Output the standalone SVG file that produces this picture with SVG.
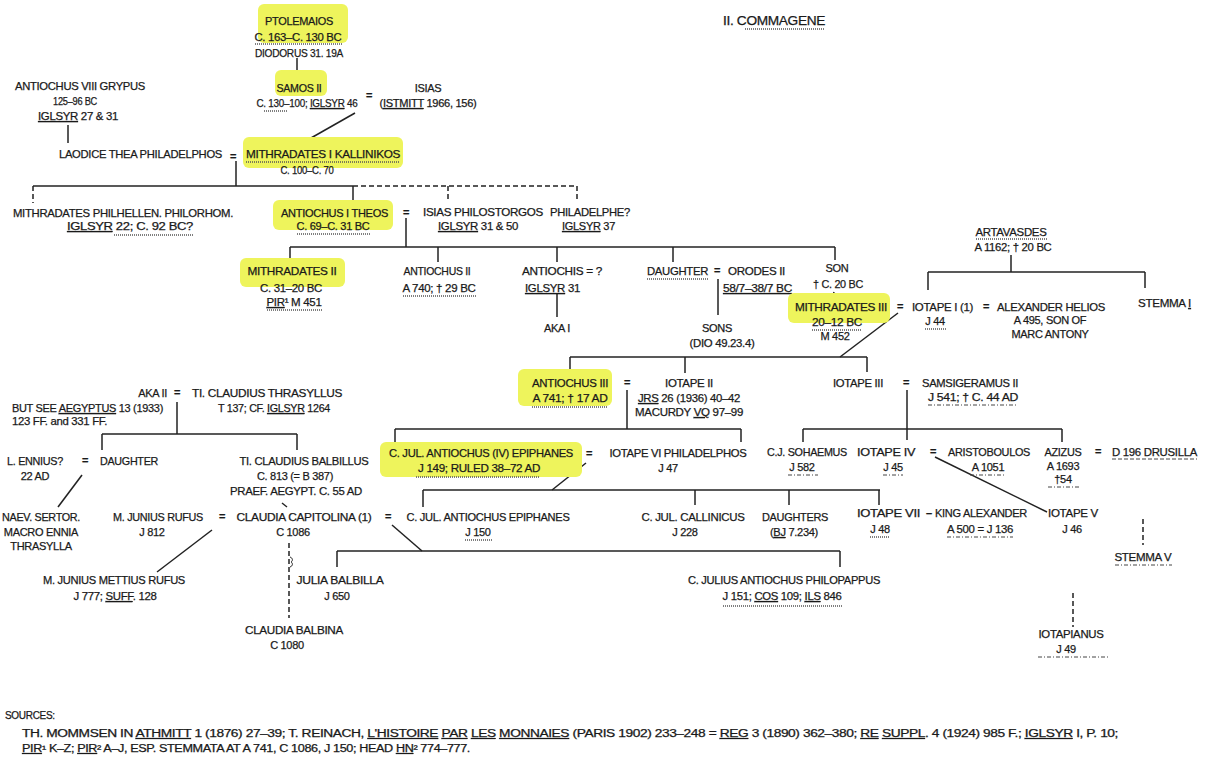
<svg xmlns="http://www.w3.org/2000/svg" width="1214" height="760" viewBox="0 0 1214 760">
<style>
text{font-family:"Liberation Sans",Arial,sans-serif;font-size:11px;fill:#1a1a1a;stroke:#1a1a1a;stroke-width:0.25;letter-spacing:-0.3px}
.c{text-anchor:middle}
.e{text-anchor:end}
.u{text-decoration:underline}
.eq{font-weight:bold;text-anchor:middle}
.src{font-size:10px}
.hl{fill:#eef45c}
.ln{stroke:#222;stroke-width:1.5;fill:none}
.ds{stroke-dasharray:5 3}
.hat{stroke:#555;stroke-width:1.6;stroke-dasharray:1 1;fill:none}
.dd{stroke:#444;stroke-width:1;stroke-dasharray:4 2 1 2;fill:none}
</style>
<rect width="1214" height="760" fill="#fff"/>

<g id="title">
<text x="723" y="25" textLength="102" lengthAdjust="spacingAndGlyphs" style="font-size:12px">II. COMMAGENE</text>
<line class="hat" x1="745" y1="29" x2="825" y2="29"/>
</g>

<g id="connectors">
<line class="ln" x1="297" y1="58" x2="297" y2="80"/>
<line class="ln" x1="355" y1="113" x2="311" y2="138"/>
<line class="ln" x1="68" y1="125" x2="68" y2="143"/>
<line class="ln" x1="236" y1="161" x2="236" y2="186"/>
<line class="ln" x1="33" y1="186" x2="353" y2="186"/>
<line class="ln ds" x1="353" y1="186" x2="577" y2="186"/>
<line class="ln ds" x1="33" y1="186" x2="33" y2="203"/>
<line class="ln" x1="353" y1="186" x2="353" y2="200"/>
<line class="ln ds" x1="448" y1="186" x2="448" y2="199"/>
<line class="ln ds" x1="577" y1="186" x2="577" y2="199"/>
<line class="ln" x1="406" y1="218" x2="406" y2="247"/>
<line class="ln" x1="290" y1="247" x2="835" y2="247"/>
<line class="ln" x1="290" y1="247" x2="290" y2="263"/>
<line class="ln" x1="438" y1="247" x2="438" y2="262"/>
<line class="ln" x1="557" y1="247" x2="557" y2="262"/>
<line class="ln" x1="673" y1="247" x2="673" y2="262"/>
<line class="ln" x1="835" y1="247" x2="835" y2="260"/>
<line class="ln" x1="557" y1="294" x2="557" y2="317"/>
<line class="ln" x1="718" y1="279" x2="718" y2="315"/>
<line class="ln" x1="834" y1="292" x2="832" y2="299"/>
<line class="ln" x1="1011" y1="255" x2="1011" y2="272"/>
<line class="ln" x1="928" y1="272" x2="1145" y2="272"/>
<line class="ln" x1="928" y1="272" x2="928" y2="290"/>
<line class="ln" x1="1145" y1="272" x2="1145" y2="288"/>
<line class="ln" x1="898" y1="313" x2="840" y2="357"/>
<line class="ln" x1="570" y1="357" x2="867" y2="357"/>
<line class="ln" x1="570" y1="357" x2="570" y2="373"/>
<line class="ln" x1="685" y1="357" x2="685" y2="373"/>
<line class="ln" x1="867" y1="357" x2="867" y2="372"/>
<line class="ln" x1="627" y1="390" x2="627" y2="429"/>
<line class="ln" x1="395" y1="429" x2="741" y2="429"/>
<line class="ln" x1="395" y1="429" x2="395" y2="444"/>
<line class="ln" x1="741" y1="429" x2="741" y2="442"/>
<line class="ln" x1="586" y1="463" x2="552" y2="490"/>
<line class="ln" x1="423" y1="490" x2="880" y2="490"/>
<line class="ln" x1="423" y1="490" x2="423" y2="507"/>
<line class="ln" x1="695" y1="490" x2="695" y2="505"/>
<line class="ln" x1="789" y1="490" x2="789" y2="505"/>
<line class="ln" x1="879" y1="490" x2="879" y2="505"/>
<line class="ln" x1="907" y1="390" x2="907" y2="440"/>
<line class="ln" x1="803" y1="429" x2="1062" y2="429"/>
<line class="ln" x1="803" y1="429" x2="803" y2="442"/>
<line class="ln" x1="1062" y1="429" x2="1062" y2="442"/>
<line class="ln" x1="935" y1="457" x2="1047" y2="512"/>
<line class="ln ds" x1="1143" y1="519" x2="1143" y2="545"/>
<line class="ln ds" x1="1073" y1="593" x2="1073" y2="627"/>
<line class="ln" x1="392" y1="525" x2="422" y2="551"/>
<line class="ln" x1="337" y1="551" x2="840" y2="551"/>
<line class="ln" x1="337" y1="551" x2="337" y2="567"/>
<line class="ln" x1="840" y1="551" x2="840" y2="567"/>
<line class="ln" x1="177" y1="402" x2="177" y2="434"/>
<line class="ln" x1="102" y1="434" x2="297" y2="434"/>
<line class="ln" x1="102" y1="434" x2="102" y2="450"/>
<line class="ln" x1="297" y1="434" x2="297" y2="450"/>
<line class="ln" x1="82" y1="475" x2="58" y2="507"/>
<line class="ln" x1="282" y1="503" x2="287" y2="507"/>
<line class="ln" x1="212" y1="530" x2="157" y2="572"/>
<line class="ln ds" x1="289" y1="543" x2="289" y2="618"/>
<path class="ln" d="M290,557 c3,1 3,4 1,5 c2,1 2,4 -1,5" style="stroke-width:1"/>
<text class="eq" x="369" y="99">=</text>
<text class="eq" x="233" y="160">=</text>
<text class="eq" x="406" y="216">=</text>
<text class="eq" x="717" y="274">=</text>
<text class="eq" x="900" y="310">=</text>
<text class="eq" x="986" y="310">=</text>
<text class="eq" x="627" y="386">=</text>
<text class="eq" x="906" y="386">=</text>
<text class="eq" x="589" y="457">=</text>
<text class="eq" x="933" y="455">=</text>
<text class="eq" x="1098" y="455">=</text>
<text class="eq" x="929" y="517">–</text>
<text class="eq" x="177" y="396">=</text>
<text class="eq" x="85" y="464">=</text>
<text class="eq" x="222" y="520">=</text>
<text class="eq" x="388" y="520">=</text>
</g>

<g id="n-ptolemaios">
<rect class="hl" x="258" y="4" width="90" height="39" rx="6"/>
<text class="c" x="299" y="25" textLength="68" lengthAdjust="spacingAndGlyphs">PTOLEMAIOS</text>
<text class="c" x="298" y="41" textLength="87" lengthAdjust="spacingAndGlyphs">C. 163–C. 130 BC</text>
<line class="hat" x1="255" y1="44" x2="342" y2="44"/>
<text class="c" x="299" y="57" textLength="88" lengthAdjust="spacingAndGlyphs">DIODORUS 31. 19A</text>
</g>

<g id="n-samos">
<rect class="hl" x="275" y="70" width="52" height="26" rx="6"/>
<text class="c" x="299" y="92" textLength="45" lengthAdjust="spacingAndGlyphs">SAMOS II</text>
<text class="c" x="307" y="107" textLength="101" lengthAdjust="spacingAndGlyphs">C. 130–100; <tspan class="u">IGLSYR</tspan> 46</text>
<line class="hat" x1="264" y1="111" x2="288" y2="111"/>
</g>

<g id="n-isias">
<text class="c" x="428" y="92">ISIAS</text>
<text class="c" x="428" y="107" textLength="97" lengthAdjust="spacingAndGlyphs">(<tspan class="u">ISTMITT</tspan> 1966, 156)</text>
</g>

<g id="n-antiochus8">
<text class="c" x="80" y="90" textLength="130" lengthAdjust="spacingAndGlyphs">ANTIOCHUS VIII GRYPUS</text>
<text class="c" x="75" y="105" textLength="44" lengthAdjust="spacingAndGlyphs">125–96 BC</text>
<text class="c" x="78" y="120" textLength="80" lengthAdjust="spacingAndGlyphs"><tspan class="u">IGLSYR</tspan> 27 &amp; 31</text>
</g>

<g id="n-laodice">
<text x="59" y="158" textLength="163" lengthAdjust="spacingAndGlyphs">LAODICE THEA PHILADELPHOS</text>
</g>

<g id="n-mithradates1">
<rect class="hl" x="243" y="137" width="160" height="31" rx="6"/>
<text x="246" y="158" textLength="154" lengthAdjust="spacingAndGlyphs">MITHRADATES I KALLINIKOS</text>
<line class="hat" x1="246" y1="162" x2="400" y2="162"/>
<text class="c" x="307" y="174" textLength="53" lengthAdjust="spacingAndGlyphs">C. 100–C. 70</text>
</g>

<g id="n-philhellen">
<text x="13" y="217" textLength="220" lengthAdjust="spacingAndGlyphs">MITHRADATES PHILHELLEN. PHILORHOM.</text>
<text x="67" y="230" textLength="126" lengthAdjust="spacingAndGlyphs"><tspan class="u">IGLSYR</tspan>  22;  C.  92  BC?</text>
<line class="hat" x1="114" y1="235" x2="193" y2="235"/>
</g>

<g id="n-antiochus1">
<rect class="hl" x="273" y="200" width="120" height="30" rx="6"/>
<text x="281" y="217" textLength="107" lengthAdjust="spacingAndGlyphs">ANTIOCHUS I THEOS</text>
<text class="c" x="333" y="230" textLength="73" lengthAdjust="spacingAndGlyphs">C. 69–C. 31 BC</text>
<line class="hat" x1="297" y1="234" x2="370" y2="234"/>
</g>

<g id="n-isias-philostorgos">
<text x="423" y="216" textLength="120" lengthAdjust="spacingAndGlyphs">ISIAS PHILOSTORGOS</text>
<text x="438" y="230" textLength="80" lengthAdjust="spacingAndGlyphs"><tspan class="u">IGLSYR</tspan> 31 &amp; 50</text>
</g>

<g id="n-philadelphe">
<text x="550" y="216" textLength="80" lengthAdjust="spacingAndGlyphs">PHILADELPHE?</text>
<text x="562" y="230" textLength="53" lengthAdjust="spacingAndGlyphs"><tspan class="u">IGLSYR</tspan> 37</text>
</g>

<g id="n-mithradates2">
<rect class="hl" x="240" y="258" width="105" height="29" rx="6"/>
<text class="c" x="292" y="275" textLength="89" lengthAdjust="spacingAndGlyphs">MITHRADATES II</text>
<text class="c" x="291" y="292" textLength="62" lengthAdjust="spacingAndGlyphs">C. 31–20 BC</text>
<text class="c" x="294" y="306" textLength="55" lengthAdjust="spacingAndGlyphs"><tspan class="u">PIR</tspan>¹ M 451</text>
<line class="hat" x1="267" y1="310" x2="322" y2="310"/>
</g>

<g id="n-antiochus2">
<text class="c" x="437" y="275" textLength="67" lengthAdjust="spacingAndGlyphs">ANTIOCHUS II</text>
<text class="c" x="439" y="292" textLength="73" lengthAdjust="spacingAndGlyphs">A 740; † 29 BC</text>
<line class="hat" x1="403" y1="296" x2="476" y2="296"/>
</g>

<g id="n-antiochis">
<text x="522" y="275" textLength="80" lengthAdjust="spacingAndGlyphs">ANTIOCHIS = ?</text>
<text x="525" y="292" textLength="55" lengthAdjust="spacingAndGlyphs"><tspan class="u">IGLSYR</tspan> 31</text>
</g>

<g id="n-aka1">
<text class="c" x="557" y="332">AKA I</text>
</g>

<g id="n-daughter">
<text x="647" y="275" textLength="61" lengthAdjust="spacingAndGlyphs">DAUGHTER</text>
<line class="hat" x1="647" y1="279" x2="708" y2="279"/>
</g>

<g id="n-orodes">
<text x="728" y="275" textLength="57" lengthAdjust="spacingAndGlyphs">ORODES II</text>
<text x="723" y="292" textLength="69" lengthAdjust="spacingAndGlyphs"><tspan class="u">58/7–38/7 BC</tspan></text>
</g>

<g id="n-sons">
<text class="c" x="717" y="332">SONS</text>
<text class="c" x="722" y="347" textLength="65" lengthAdjust="spacingAndGlyphs">(DIO 49.23.4)</text>
</g>

<g id="n-son">
<text class="c" x="837" y="272">SON</text>
<text class="c" x="838" y="288" textLength="50" lengthAdjust="spacingAndGlyphs">† C. 20 BC</text>
</g>

<g id="n-mithradates3">
<rect class="hl" x="788" y="293" width="102" height="30" rx="6"/>
<text x="795" y="311" textLength="92" lengthAdjust="spacingAndGlyphs">MITHRADATES III</text>
<text class="c" x="837" y="326" textLength="50" lengthAdjust="spacingAndGlyphs">20–12 BC</text>
<line class="hat" x1="812" y1="330" x2="862" y2="330"/>
<text class="c" x="835" y="340">M 452</text>
</g>

<g id="n-iotape1">
<text x="912" y="311" textLength="61" lengthAdjust="spacingAndGlyphs">IOTAPE I (1)</text>
<text class="c" x="935" y="325">J 44</text>
<line class="hat" x1="925" y1="329" x2="946" y2="329"/>
</g>

<g id="n-alexander">
<text x="997" y="311" textLength="108" lengthAdjust="spacingAndGlyphs">ALEXANDER HELIOS</text>
<text class="c" x="1050" y="324">A 495, SON OF</text>
<text class="c" x="1050" y="338">MARC ANTONY</text>
</g>

<g id="n-stemma1">
<text x="1138" y="307" textLength="53" lengthAdjust="spacingAndGlyphs">STEMMA <tspan class="u">I</tspan></text>
</g>

<g id="n-artavasdes">
<text class="c" x="1011" y="236" textLength="71" lengthAdjust="spacingAndGlyphs">ARTAVASDES</text>
<line class="hat" x1="976" y1="239" x2="1047" y2="239"/>
<text class="c" x="1013" y="251" textLength="77" lengthAdjust="spacingAndGlyphs">A 1162; † 20 BC</text>
</g>

<g id="n-antiochus3">
<rect class="hl" x="518" y="369" width="94" height="37" rx="6"/>
<text class="c" x="570" y="387" textLength="76" lengthAdjust="spacingAndGlyphs">ANTIOCHUS III</text>
<text class="c" x="570" y="402" textLength="75" lengthAdjust="spacingAndGlyphs">A 741; † 17 AD</text>
<line class="hat" x1="532" y1="407" x2="607" y2="407"/>
</g>

<g id="n-iotape2">
<text class="c" x="689" y="387" textLength="48" lengthAdjust="spacingAndGlyphs">IOTAPE II</text>
<text class="c" x="689" y="402" textLength="102" lengthAdjust="spacingAndGlyphs"><tspan class="u">JRS</tspan> 26 (1936) 40–42</text>
<text class="c" x="689" y="416" textLength="108" lengthAdjust="spacingAndGlyphs">MACURDY <tspan class="u">VQ</tspan> 97–99</text>
</g>

<g id="n-antiochus4">
<rect class="hl" x="380" y="442" width="202" height="35" rx="6"/>
<text class="c" x="481" y="457" textLength="184" lengthAdjust="spacingAndGlyphs">C. JUL. ANTIOCHUS (IV) EPIPHANES</text>
<text class="c" x="479" y="472" textLength="122" lengthAdjust="spacingAndGlyphs">J 149; RULED 38–72 AD</text>
<line class="hat" x1="416" y1="477" x2="540" y2="477"/>
</g>

<g id="n-iotape6">
<text class="c" x="678" y="457" textLength="137" lengthAdjust="spacingAndGlyphs">IOTAPE VI PHILADELPHOS</text>
<text class="c" x="668" y="472">J 47</text>
</g>

<g id="n-iotape3">
<text x="833" y="387" textLength="50" lengthAdjust="spacingAndGlyphs">IOTAPE III</text>
</g>

<g id="n-samsigeramus">
<text x="922" y="387" textLength="96" lengthAdjust="spacingAndGlyphs">SAMSIGERAMUS II</text>
<text class="c" x="973" y="401" textLength="90" lengthAdjust="spacingAndGlyphs">J 541; † C. 44 AD</text>
<line class="dd" x1="928" y1="405" x2="1018" y2="405"/>
</g>

<g id="n-sohaemus">
<text x="767" y="456" textLength="80" lengthAdjust="spacingAndGlyphs">C.J. SOHAEMUS</text>
<text class="c" x="802" y="471">J 582</text>
<line class="dd" x1="788" y1="475" x2="818" y2="475"/>
</g>

<g id="n-iotape4">
<text x="857" y="456" textLength="58" lengthAdjust="spacingAndGlyphs">IOTAPE IV</text>
<text class="c" x="893" y="471">J 45</text>
<line class="dd" x1="883" y1="475" x2="903" y2="475"/>
</g>

<g id="n-aristoboulos">
<text x="948" y="456" textLength="82" lengthAdjust="spacingAndGlyphs">ARISTOBOULOS</text>
<text class="c" x="988" y="471">A 1051</text>
<line class="dd" x1="970" y1="475" x2="1006" y2="475"/>
</g>

<g id="n-azizus">
<text class="c" x="1063" y="456" textLength="37" lengthAdjust="spacingAndGlyphs">AZIZUS</text>
<text class="c" x="1063" y="470">A 1693</text>
<text class="c" x="1063" y="483">†54</text>
<line class="dd" x1="1048" y1="487" x2="1080" y2="487"/>
</g>

<g id="n-drusilla">
<text x="1112" y="456" textLength="85" lengthAdjust="spacingAndGlyphs">D 196 DRUSILLA</text>
<line class="dd" x1="1112" y1="459" x2="1197" y2="459" style="stroke-dasharray:4 2"/>
</g>

<g id="n-iotape7">
<text x="857" y="517" textLength="63" lengthAdjust="spacingAndGlyphs">IOTAPE VII</text>
<text class="c" x="880" y="533">J 48</text>
<line class="hat" x1="870" y1="537" x2="890" y2="537"/>
</g>

<g id="n-kingalexander">
<text x="935" y="517" textLength="92" lengthAdjust="spacingAndGlyphs">KING ALEXANDER</text>
<text class="c" x="980" y="533" textLength="66" lengthAdjust="spacingAndGlyphs">A 500 = J 136</text>
<line class="dd" x1="947" y1="537" x2="1013" y2="537"/>
</g>

<g id="n-iotape5">
<text x="1048" y="517" textLength="50" lengthAdjust="spacingAndGlyphs">IOTAPE V</text>
<text class="c" x="1072" y="533">J 46</text>
</g>

<g id="n-stemma5">
<text class="c" x="1143" y="561" textLength="57" lengthAdjust="spacingAndGlyphs">STEMMA V</text>
<line class="dd" x1="1115" y1="565" x2="1172" y2="565"/>
</g>

<g id="n-iotapianus">
<text class="c" x="1071" y="638" textLength="65" lengthAdjust="spacingAndGlyphs">IOTAPIANUS</text>
<text class="c" x="1066" y="653">J 49</text>
<line class="dd" x1="1038" y1="657" x2="1110" y2="657"/>
</g>

<g id="n-antiochus-epiphanes">
<text class="c" x="488" y="521" textLength="163" lengthAdjust="spacingAndGlyphs">C. JUL. ANTIOCHUS EPIPHANES</text>
<text class="c" x="478" y="536">J 150</text>
<line class="hat" x1="465" y1="540" x2="492" y2="540"/>
</g>

<g id="n-callinicus">
<text class="c" x="693" y="521" textLength="103" lengthAdjust="spacingAndGlyphs">C. JUL. CALLINICUS</text>
<text class="c" x="685" y="536">J 228</text>
</g>

<g id="n-daughters">
<text class="c" x="795" y="521" textLength="66" lengthAdjust="spacingAndGlyphs">DAUGHTERS</text>
<text class="c" x="794" y="536" textLength="48" lengthAdjust="spacingAndGlyphs">(<tspan class="u">BJ</tspan> 7.234)</text>
</g>

<g id="n-philopappus">
<text class="c" x="784" y="584" textLength="192" lengthAdjust="spacingAndGlyphs">C. JULIUS ANTIOCHUS PHILOPAPPUS</text>
<text class="c" x="782" y="600" textLength="119" lengthAdjust="spacingAndGlyphs">J 151; <tspan class="u">COS</tspan> 109; <tspan class="u">ILS</tspan> 846</text>
<line class="hat" x1="723" y1="606" x2="842" y2="606"/>
</g>

<g id="n-julia">
<text class="c" x="340" y="584" textLength="87" lengthAdjust="spacingAndGlyphs">JULIA BALBILLA</text>
<text class="c" x="337" y="600">J 650</text>
</g>

<g id="n-aka2">
<text class="e" x="167" y="397">AKA II</text>
</g>

<g id="n-thrasyllus">
<text class="c" x="267" y="397" textLength="150" lengthAdjust="spacingAndGlyphs">TI. CLAUDIUS THRASYLLUS</text>
<text class="c" x="274" y="412" textLength="112" lengthAdjust="spacingAndGlyphs">T 137; CF. <tspan class="u">IGLSYR</tspan> 1264</text>
</g>

<g id="n-note">
<text x="12" y="412" textLength="151" lengthAdjust="spacingAndGlyphs">BUT SEE <tspan class="u">AEGYPTUS</tspan> 13 (1933)</text>
<text x="12" y="425" textLength="95" lengthAdjust="spacingAndGlyphs">123 FF. and 331 FF.</text>
</g>

<g id="n-ennius">
<text class="c" x="35" y="465" textLength="56" lengthAdjust="spacingAndGlyphs">L. ENNIUS?</text>
<text class="c" x="35" y="480">22 AD</text>
</g>

<g id="n-daughter2">
<text x="100" y="465" textLength="58" lengthAdjust="spacingAndGlyphs">DAUGHTER</text>
</g>

<g id="n-balbillus">
<text class="c" x="304" y="465" textLength="129" lengthAdjust="spacingAndGlyphs">TI. CLAUDIUS BALBILLUS</text>
<text class="c" x="295" y="480" textLength="76" lengthAdjust="spacingAndGlyphs">C. 813 (= B 387)</text>
<text class="c" x="296" y="495" textLength="132" lengthAdjust="spacingAndGlyphs">PRAEF. AEGYPT. C. 55 AD</text>
</g>

<g id="n-naevius">
<text class="c" x="41" y="521" textLength="78" lengthAdjust="spacingAndGlyphs">NAEV. SERTOR.</text>
<text class="c" x="41" y="536">MACRO ENNIA</text>
<text class="c" x="41" y="550">THRASYLLA</text>
</g>

<g id="n-junius">
<text class="c" x="158" y="521" textLength="90" lengthAdjust="spacingAndGlyphs">M. JUNIUS RUFUS</text>
<text class="c" x="152" y="536">J 812</text>
</g>

<g id="n-capitolina">
<text class="c" x="304" y="521" textLength="135" lengthAdjust="spacingAndGlyphs">CLAUDIA CAPITOLINA (1)</text>
<text class="c" x="293" y="536">C 1086</text>
</g>

<g id="n-mettius">
<text class="c" x="114" y="584" textLength="142" lengthAdjust="spacingAndGlyphs">M. JUNIUS METTIUS RUFUS</text>
<text class="c" x="115" y="600" textLength="83" lengthAdjust="spacingAndGlyphs">J 777; <tspan class="u">SUFF</tspan>. 128</text>
</g>

<g id="n-balbina">
<text class="c" x="294" y="634" textLength="98" lengthAdjust="spacingAndGlyphs">CLAUDIA BALBINA</text>
<text class="c" x="287" y="649">C 1080</text>
</g>

<g id="sources">
<text class="src" x="5" y="719">SOURCES:</text>
<text class="src" x="22" y="737" textLength="1096" lengthAdjust="spacingAndGlyphs">TH. MOMMSEN IN <tspan class="u">ATHMITT</tspan> 1 (1876) 27–39; T. REINACH, <tspan class="u">L'HISTOIRE</tspan> <tspan class="u">PAR</tspan> <tspan class="u">LES</tspan> <tspan class="u">MONNAIES</tspan> (PARIS 1902) 233–248 = <tspan class="u">REG</tspan> 3 (1890) 362–380; <tspan class="u">RE</tspan> <tspan class="u">SUPPL</tspan>. 4 (1924) 985 F.; <tspan class="u">IGLSYR</tspan> I, P. 10;</text>
<text class="src" x="22" y="752" textLength="448" lengthAdjust="spacingAndGlyphs"><tspan class="u">PIR</tspan>¹ K–Z; <tspan class="u">PIR</tspan>² A–J, ESP. STEMMATA AT A 741, C 1086, J 150; HEAD <tspan class="u">HN</tspan>² 774–777.</text>
</g>
</svg>
